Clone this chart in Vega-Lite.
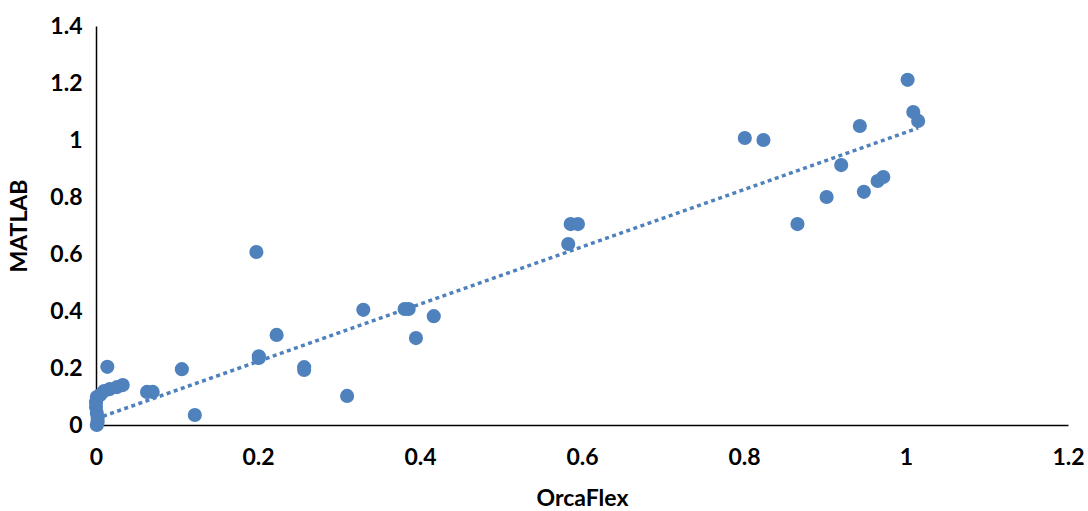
{
  "$schema": "https://vega.github.io/schema/vega-lite/v6.json",
  "width": 972,
  "height": 399,
  "autosize": {"type": "none"},
  "padding": {"left": 96, "top": 26, "right": 20, "bottom": 86},
  "background": "white",
  "config": {
    "view": {"stroke": null},
    "font": "Lato",
    "axis": {
      "grid": false,
      "ticks": false,
      "domainColor": "#000000",
      "domainWidth": 1.5,
      "labelFont": "Lato",
      "labelFontWeight": "bold",
      "labelFontSize": 23,
      "labelColor": "#000000",
      "titleFont": "Lato",
      "titleFontWeight": "bold",
      "titleFontSize": 23,
      "titleColor": "#000000"
    }
  },
  "datasets": {
    "points": [
      {"orcaflex": 1.002, "matlab": 1.211},
      {"orcaflex": 1.009, "matlab": 1.098},
      {"orcaflex": 1.015, "matlab": 1.067},
      {"orcaflex": 0.801, "matlab": 1.007},
      {"orcaflex": 0.824, "matlab": 1.0},
      {"orcaflex": 0.943, "matlab": 1.049},
      {"orcaflex": 0.92, "matlab": 0.912},
      {"orcaflex": 0.965, "matlab": 0.856},
      {"orcaflex": 0.972, "matlab": 0.87},
      {"orcaflex": 0.948, "matlab": 0.818},
      {"orcaflex": 0.902, "matlab": 0.8},
      {"orcaflex": 0.866, "matlab": 0.705},
      {"orcaflex": 0.586, "matlab": 0.705},
      {"orcaflex": 0.595, "matlab": 0.705},
      {"orcaflex": 0.583, "matlab": 0.635},
      {"orcaflex": 0.198, "matlab": 0.607},
      {"orcaflex": 0.33, "matlab": 0.404},
      {"orcaflex": 0.381, "matlab": 0.407},
      {"orcaflex": 0.386, "matlab": 0.407},
      {"orcaflex": 0.417, "matlab": 0.382},
      {"orcaflex": 0.395, "matlab": 0.305},
      {"orcaflex": 0.223, "matlab": 0.316},
      {"orcaflex": 0.201, "matlab": 0.235},
      {"orcaflex": 0.201, "matlab": 0.241},
      {"orcaflex": 0.257, "matlab": 0.203},
      {"orcaflex": 0.257, "matlab": 0.193},
      {"orcaflex": 0.31, "matlab": 0.102},
      {"orcaflex": 0.122, "matlab": 0.035},
      {"orcaflex": 0.106, "matlab": 0.196},
      {"orcaflex": 0.014, "matlab": 0.204},
      {"orcaflex": 0.063, "matlab": 0.116},
      {"orcaflex": 0.07, "matlab": 0.116},
      {"orcaflex": 0.033, "matlab": 0.14},
      {"orcaflex": 0.026, "matlab": 0.133},
      {"orcaflex": 0.017, "matlab": 0.126},
      {"orcaflex": 0.01, "matlab": 0.119},
      {"orcaflex": 0.005, "matlab": 0.105},
      {"orcaflex": 0.001, "matlab": 0.098},
      {"orcaflex": 0.0, "matlab": 0.08},
      {"orcaflex": 0.0, "matlab": 0.063},
      {"orcaflex": 0.001, "matlab": 0.042},
      {"orcaflex": 0.002, "matlab": 0.025},
      {"orcaflex": 0.002, "matlab": 0.01},
      {"orcaflex": 0.001, "matlab": 0.0}
    ],
    "trend": [
      {"orcaflex": 0.0, "matlab": 0.022},
      {"orcaflex": 1.015, "matlab": 1.042}
    ]
  },
  "layer": [
    {
      "data": {"name": "points"},
      "mark": {"type": "point", "shape": "circle", "filled": true, "size": 200, "opacity": 1, "color": "#4F81BD"},
      "encoding": {
        "x": {"field": "orcaflex", "type": "quantitative", "title": "OrcaFlex",
              "scale": {"domain": [0, 1.2], "nice": false},
              "axis": {"values": [0, 0.2, 0.4, 0.6, 0.8, 1, 1.2], "format": ".1~f", "labelPadding": 21, "titlePadding": 18, "labelFlush": false}},
        "y": {"field": "matlab", "type": "quantitative", "title": "MATLAB",
              "scale": {"domain": [0, 1.4], "nice": false},
              "axis": {"values": [0, 0.2, 0.4, 0.6, 0.8, 1, 1.2, 1.4], "format": ".1~f", "labelPadding": 14, "titlePadding": 18, "labelFlush": false}}
      }
    },
    {
      "data": {"name": "trend"},
      "mark": {"type": "line", "color": "#4F81BD", "strokeWidth": 3.5, "strokeDash": [4, 3.5]},
      "encoding": {
        "x": {"field": "orcaflex", "type": "quantitative"},
        "y": {"field": "matlab", "type": "quantitative"}
      }
    }
  ]
}
